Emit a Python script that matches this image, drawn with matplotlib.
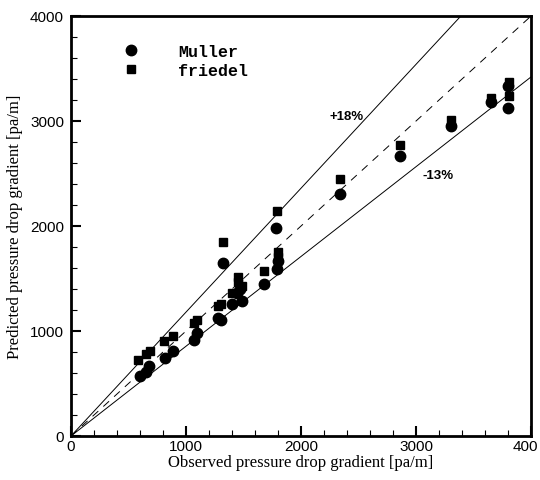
import numpy as np
import matplotlib.pyplot as plt
from matplotlib.ticker import MultipleLocator
from matplotlib.transforms import ScaledTranslation

# Observed vs predicted pressure drop gradient [pa/m]
muller_obs = [600, 650, 680, 817, 890, 1070, 1093, 1280, 1300, 1325, 1397, 1440,
              1470, 1484, 1681, 1783, 1794, 1803, 2340, 2861, 3304, 3652, 3803, 3803]
muller_pred = [575, 605, 665, 740, 812, 914, 978, 1120, 1105, 1645, 1257, 1360,
               1400, 1289, 1448, 1978, 1590, 1665, 2302, 2670, 2948, 3178, 3124, 3336]

friedel_obs = [585, 650, 690, 812, 890, 1072, 1098, 1280, 1300, 1325, 1397, 1450,
               1455, 1490, 1681, 1788, 1800, 1803, 2342, 2861, 3307, 3652, 3809, 3809]
friedel_pred = [724, 780, 805, 905, 950, 1076, 1105, 1240, 1260, 1844, 1359, 1465,
                1511, 1432, 1571, 2146, 1700, 1750, 2445, 2768, 3012, 3222, 3368, 3235]

upper_slope = 1.18   # +18% bound
lower_slope = 0.855  # -13% bound (as drawn)
axis_max = 4000
ticks = [0, 1000, 2000, 3000, 4000]
xtick_labels = ['0', '1000', '2000', '3000', '400']
ytick_labels = ['0', '1000', '2000', '3000', '4000']

fig = plt.figure(figsize=(5.4, 4.81), dpi=100)
ax = fig.add_axes([0.1315, 0.0915, 0.852, 0.8732])

xs = np.array([0, axis_max])
ax.plot(xs, upper_slope * xs, color='black', lw=0.7)
ax.plot(xs, lower_slope * xs, color='black', lw=0.7)
ax.plot(xs, xs, color='black', lw=0.7, dashes=(8, 7))

ax.plot(muller_obs, muller_pred, 'o', color='black', ms=7.5, label='Muller')
ax.plot(friedel_obs, friedel_pred, 's', color='black', ms=5.5, label='friedel')

ax.text(2400, 3048, '+18%', ha='center', va='center', fontsize=9.5,
        fontweight='bold', family='Liberation Sans')
ax.text(3191, 2486, '-13%', ha='center', va='center', fontsize=9.5,
        fontweight='bold', family='Liberation Sans')

ax.set_xlim(0, axis_max)
ax.set_ylim(0, axis_max)
ax.set_xticks(ticks)
ax.set_xticklabels(xtick_labels, family='Liberation Sans', fontsize=11)
ax.set_yticks(ticks)
ax.set_yticklabels(ytick_labels, family='Liberation Sans', fontsize=11)
ax.xaxis.set_minor_locator(MultipleLocator(200))
ax.yaxis.set_minor_locator(MultipleLocator(200))
ax.tick_params(which='major', direction='in', length=7, width=1.5, pad=2)
ax.tick_params(axis='y', which='major', pad=5)
ax.tick_params(which='minor', direction='in', length=4, width=0.8)
for sp in ax.spines.values():
    sp.set_linewidth(2)

# last x label is cut at the image edge in the original
last = ax.get_xticklabels()[-1]
last.set_ha('left')
last.set_transform(last.get_transform() + ScaledTranslation(-0.18, 0, fig.dpi_scale_trans))

ax.set_xlabel('Observed pressure drop gradient [pa/m]', family='Liberation Serif',
              fontsize=12, labelpad=1)
ax.set_ylabel('Predicted pressure drop gradient [pa/m]', family='Liberation Serif',
              fontsize=12, labelpad=5)

ax.legend(loc='upper left', bbox_to_anchor=(0.08, 0.97), frameon=False,
          handletextpad=2.3, labelspacing=0.25, handlelength=1.0,
          prop={'family': 'Liberation Mono', 'weight': 'bold', 'size': 12})

fig.savefig('out.png', dpi=100)
